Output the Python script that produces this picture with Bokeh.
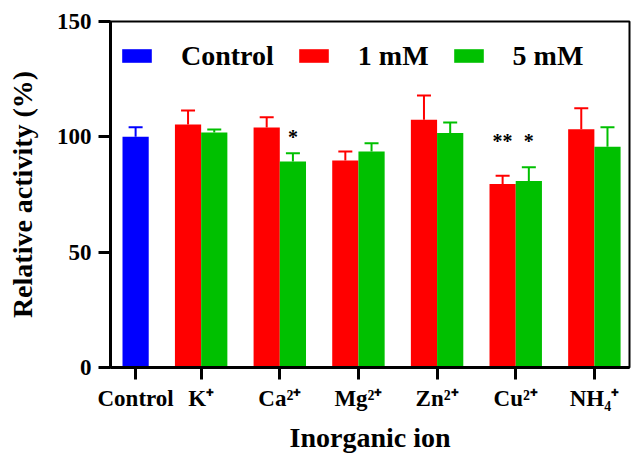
from bokeh.plotting import figure
from bokeh.models import Range1d, FixedTicker, Legend, LegendItem, Whisker, ColumnDataSource, TeeHead
from bokeh.core.properties import value
from bokeh.embed import file_html
from bokeh.resources import INLINE

# ---- data ----
ions = ["K⁺", "Ca²⁺", "Mg²⁺", "Zn²⁺", "Cu²⁺", "NH₄⁺"]
control_label = "Control"
control_mean = [100.0]
control_sd = [4.2]
mean_1mM = [105.3, 104.0, 89.7, 107.4, 79.5, 103.3]
sd_1mM = [6.1, 4.5, 3.9, 10.5, 3.6, 9.1]
mean_5mM = [101.9, 89.3, 93.6, 101.7, 80.8, 95.7]
sd_5mM = [1.3, 3.6, 3.6, 4.5, 6.0, 8.5]
sig_1mM = ["", "", "", "", "**", ""]
sig_5mM = ["", "*", "", "", "*", ""]
sig_y = [0, 100, 0, 0, 98, 0]
yticks = [0, 50, 100, 150]

FONT = "Liberation Serif"
BLUE, RED, GREEN = "#0000FF", "#FF0000", "#00C000"

# ---- layout: bar width 1, gap 1 between groups ----
GAP = 1.0
ctrl_x = [0.5]
group_left = [1 + GAP + i * (2 + GAP) for i in range(len(ions))]
red_x = [g + 0.5 for g in group_left]
green_x = [g + 1.5 for g in group_left]
centers = [g + 1.0 for g in group_left]

p = figure(width=632, height=455,
           x_range=Range1d(-0.458, 19.34), y_range=Range1d(0, 150),
           output_backend="svg", toolbar_location=None,
           min_border_left=110, min_border_right=3, min_border_top=21, min_border_bottom=88)
p.background_fill_color = "white"
p.border_fill_color = "white"
p.outline_line_color = "black"
p.outline_line_width = 2
p.xgrid.visible = False
p.ygrid.visible = False

src_c = ColumnDataSource(dict(x=ctrl_x, top=control_mean, up=[m + s for m, s in zip(control_mean, control_sd)]))
src_r = ColumnDataSource(dict(x=red_x, top=mean_1mM, up=[m + s for m, s in zip(mean_1mM, sd_1mM)]))
src_g = ColumnDataSource(dict(x=green_x, top=mean_5mM, up=[m + s for m, s in zip(mean_5mM, sd_5mM)]))

for src, col in ((src_c, BLUE), (src_r, RED), (src_g, GREEN)):
    w = Whisker(base="x", lower="top", upper="up", source=src, line_color=col, line_width=2,
                lower_head=None, upper_head=TeeHead(size=14, line_color=col, line_width=2))
    p.add_layout(w)

rc = p.vbar(x="x", top="top", bottom=0, width=1.0, source=src_c, fill_color=BLUE, line_color=None)
rr = p.vbar(x="x", top="top", bottom=0, width=1.0, source=src_r, fill_color=RED, line_color=None)
rg = p.vbar(x="x", top="top", bottom=0, width=1.0, source=src_g, fill_color=GREEN, line_color=None)

star_src = ColumnDataSource(dict(x=red_x + green_x, y=sig_y + sig_y, t=sig_1mM + sig_5mM))
p.text(x="x", y="y", text="t", source=star_src, text_font=value(FONT), text_font_size="20px",
       text_font_style="bold", text_align="center", text_baseline="middle", text_color="black")

# axes
ticks = ctrl_x + centers
p.xaxis.ticker = FixedTicker(ticks=ticks)
p.xaxis.major_label_overrides = {t: lab for t, lab in zip(ticks, [control_label] + ions)}
p.yaxis.ticker = FixedTicker(ticks=yticks)
for ax in (p.xaxis[0], p.yaxis[0]):
    ax.axis_line_width = 3
    ax.axis_line_color = "black"
    ax.major_tick_line_width = 3
    ax.major_tick_out = 12
    ax.major_tick_in = 0
    ax.minor_tick_line_color = None
    ax.major_label_text_font = FONT
    ax.major_label_text_font_size = "23px"
    ax.major_label_text_font_style = "bold"
    ax.major_label_text_color = "black"
    ax.axis_label_text_font = FONT
    ax.axis_label_text_font_size = "28px"
    ax.axis_label_text_font_style = "bold"
    ax.axis_label_text_color = "black"
p.xaxis.axis_label = "Inorganic ion"
p.yaxis.axis_label = "Relative activity (%)"
p.yaxis.major_label_standoff = 7
p.yaxis.axis_label_standoff = 16
p.xaxis.major_label_standoff = 6
p.xaxis.axis_label_standoff = 8

legend = Legend(items=[LegendItem(label="Control", renderers=[rc]),
                       LegendItem(label="1 mM", renderers=[rr]),
                       LegendItem(label="5 mM", renderers=[rg])],
                orientation="horizontal", location="top_left", margin=8, padding=0,
                spacing=21, label_standoff=26, glyph_width=37, glyph_height=17, label_height=53,
                border_line_color=None, background_fill_alpha=0,
                label_text_font=FONT, label_text_font_size="28px", label_text_font_style="bold",
                label_text_color="black")
p.add_layout(legend)

open("out.html", "w").write(file_html(p, INLINE))
